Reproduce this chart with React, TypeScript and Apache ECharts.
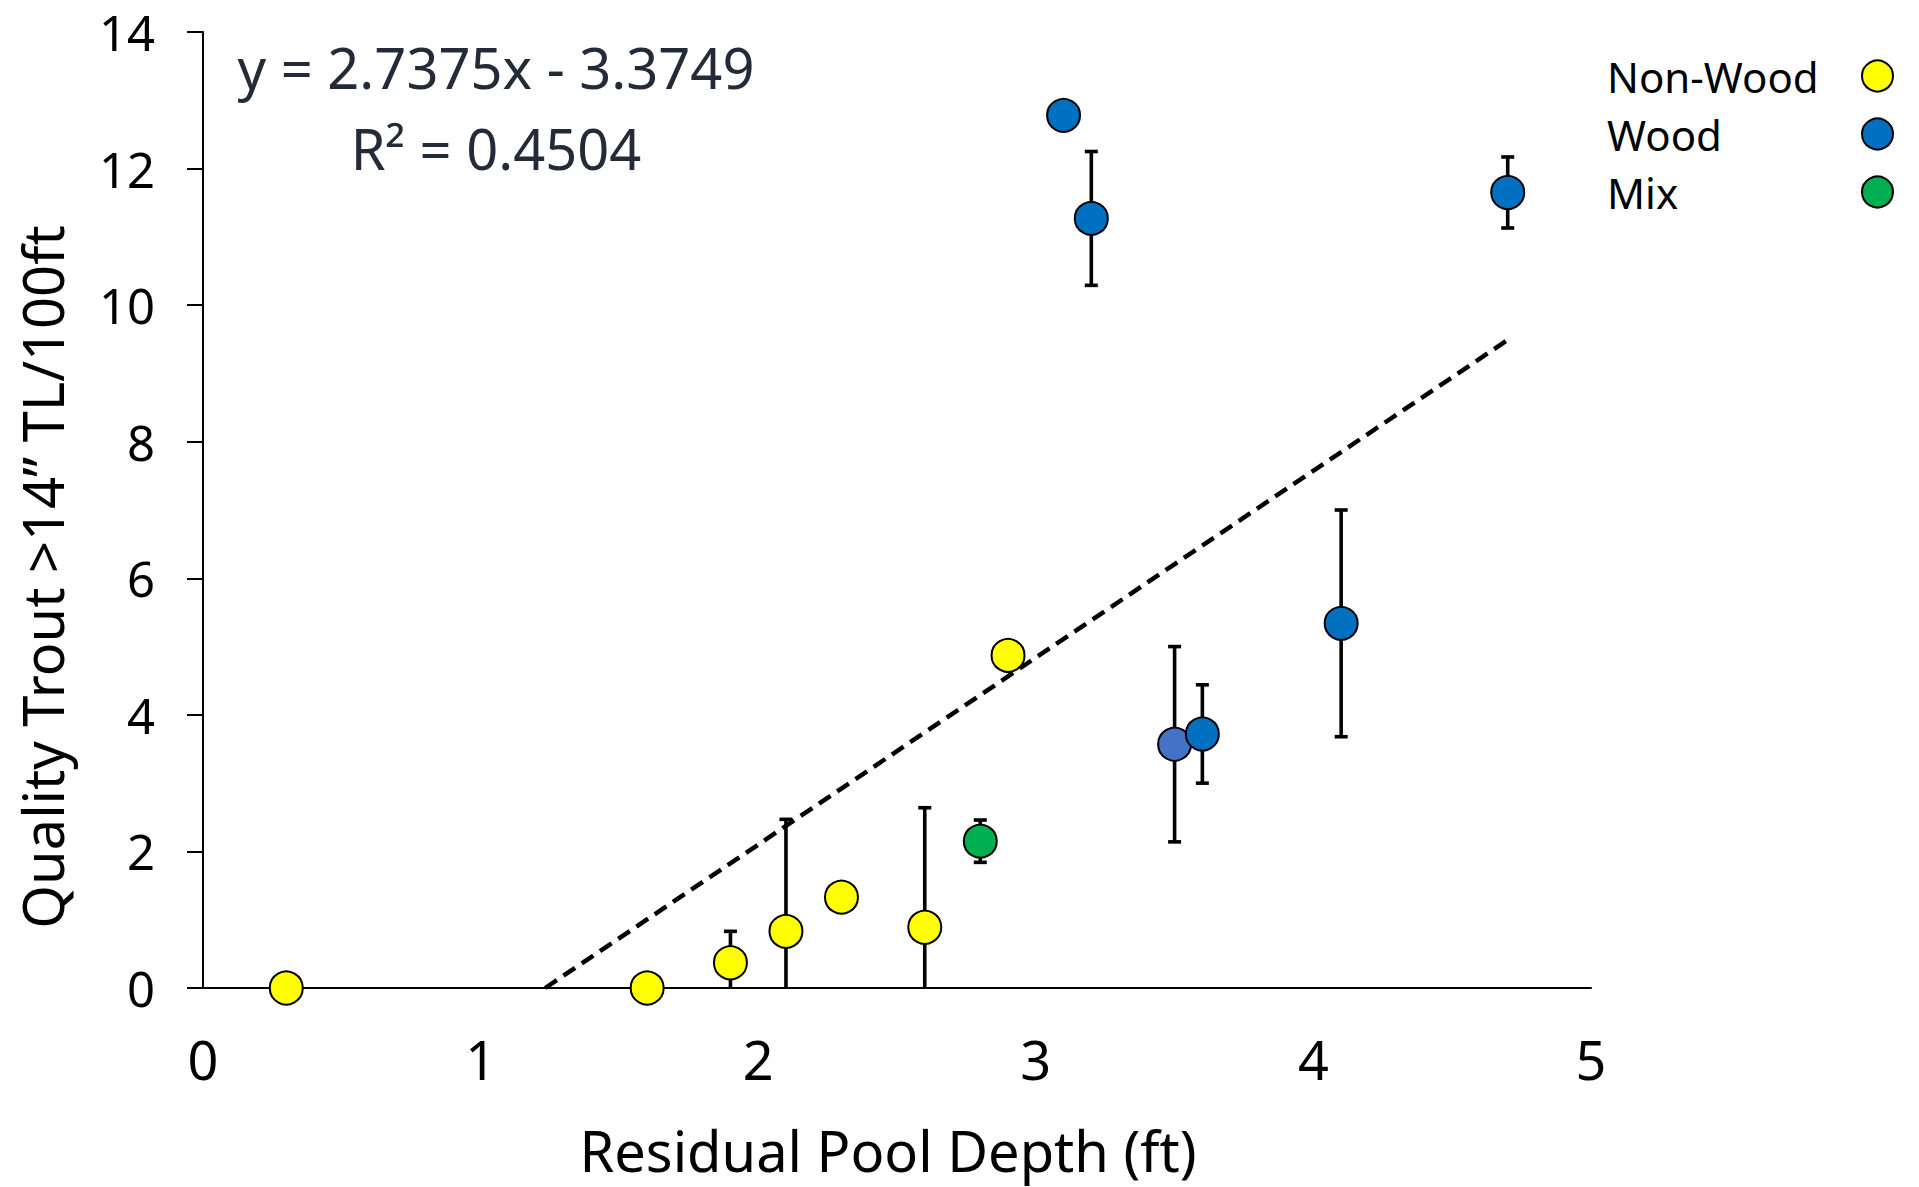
import React, { useEffect, useRef } from "react";
import * as echarts from "echarts";

// ---- data ----
const nonWoodX = [0.3, 1.6, 1.9, 2.1, 2.3, 2.6, 2.9];
const nonWoodY = [0, 0, 0.37, 0.83, 1.33, 0.89, 4.87];
const nonWoodErr = [0, 0, 0.46, 1.64, 0, 1.75, 0];

const woodX = [3.1, 3.2, 3.5, 3.6, 4.1, 4.7];
const woodY = [12.78, 11.27, 3.57, 3.72, 5.34, 11.65];
const woodErr = [0, 0.98, 1.43, 0.72, 1.66, 0.52];
const woodColors = ["#0070C0", "#0070C0", "#4472C4", "#0070C0", "#0070C0", "#0070C0"];

const mixX = [2.8];
const mixY = [2.15];
const mixErr = [0.31];

const seriesNames = ["Non-Wood", "Wood", "Mix"];
const seriesColors = ["#FFFF00", "#0070C0", "#00B050"];

const trendSlope = 2.7375;
const trendIntercept = -3.3749;
const trendXEnd = 4.7;
const equationText = "y = 2.7375x - 3.3749";
const r2Text = "R\u00B2 = 0.4504";

const xTicks = [0, 1, 2, 3, 4, 5];
const yTicks = [0, 2, 4, 6, 8, 10, 12, 14];

const xTitle = "Residual Pool Depth (ft)";
const yTitle = "Quality Trout >14\u201D TL/100ft";

const FONT = "Noto Sans";

export default function App() {
  const ref = useRef<HTMLDivElement>(null);

  useEffect(() => {
    if (!ref.current) return;
    const chart = echarts.init(ref.current, undefined, { renderer: "svg" });

    const errData: number[][] = [];
    const pushErr = (xs: number[], ys: number[], es: number[]) => {
      xs.forEach((x, i) => {
        if (es[i] > 0) errData.push([x, ys[i], es[i]]);
      });
    };
    pushErr(nonWoodX, nonWoodY, nonWoodErr);
    pushErr(woodX, woodY, woodErr);
    pushErr(mixX, mixY, mixErr);

    const trendStart = -trendIntercept / trendSlope;
    const trendData = [
      [trendStart, trendSlope * trendStart + trendIntercept],
      [trendXEnd, trendSlope * trendXEnd + trendIntercept],
    ];

    const markerStyle = (color: string) => ({
      color,
      borderColor: "#000",
      borderWidth: 2,
      opacity: 1,
    });

    const option: any = {
      animation: false,
      backgroundColor: "#ffffff",
      textStyle: { fontFamily: FONT },
      grid: { left: 203, right: 328, top: 32, bottom: 199, containLabel: false },
      xAxis: {
        type: "value",
        min: xTicks[0],
        max: xTicks[xTicks.length - 1],
        interval: 1,
        axisLine: { show: true, onZero: false, lineStyle: { color: "#000", width: 2 } },
        axisTick: { show: false },
        splitLine: { show: false },
        axisLabel: { color: "#000", fontSize: 54, margin: 44, fontFamily: FONT },
      },
      yAxis: {
        type: "value",
        min: yTicks[0],
        max: yTicks[yTicks.length - 1],
        interval: 2,
        axisLine: { show: true, lineStyle: { color: "#000", width: 2 } },
        axisTick: { show: true, inside: false, length: 16, lineStyle: { color: "#000", width: 2 } },
        splitLine: { show: false },
        axisLabel: { color: "#000", fontSize: 49, margin: 48, fontFamily: FONT },
      },
      legend: {
        orient: "vertical",
        left: 1607,
        top: 55,
        padding: 0,
        align: "right",
        itemWidth: 31,
        itemHeight: 31,
        itemGap: 16,
        icon: "circle",
        formatter: (name: string) => `{a|${name}}`,
        textStyle: {
          color: "#000",
          fontSize: 42,
          fontFamily: FONT,
          rich: {
            a: { width: 250, align: "left", fontSize: 42, fontFamily: FONT, color: "#000" },
          },
        },
        data: seriesNames.map((n, i) => ({
          name: n,
          itemStyle: { color: seriesColors[i], borderColor: "#000", borderWidth: 2 },
        })),
      },
      graphic: [
        {
          type: "text",
          x: 496,
          y: 67,
          style: {
            text: equationText,
            fontSize: 56,
            fontFamily: FONT,
            fill: "#232b38",
            align: "center",
            verticalAlign: "middle",
          },
        },
        {
          type: "text",
          x: 496,
          y: 148,
          style: {
            text: r2Text,
            fontSize: 56,
            fontFamily: FONT,
            fill: "#232b38",
            align: "center",
            verticalAlign: "middle",
          },
        },
        {
          type: "text",
          x: 888,
          y: 1150,
          style: {
            text: xTitle,
            fontSize: 56,
            lineHeight: 60,
            fontFamily: FONT,
            fill: "#000",
            align: "center",
            verticalAlign: "middle",
          },
        },
        {
          type: "text",
          x: 42,
          y: 577,
          rotation: Math.PI / 2,
          style: {
            text: yTitle,
            fontSize: 56,
            fontFamily: FONT,
            fill: "#000",
            align: "center",
            verticalAlign: "middle",
          },
        },
      ],
      series: [
        {
          type: "custom",
          name: "errorbars",
          z: 1,
          silent: true,
          data: errData,
          renderItem: (params: any, api: any) => {
            const x = api.value(0);
            const y = api.value(1);
            const e = api.value(2);
            const lowVal = Math.max(0, y - e);
            const hi = api.coord([x, y + e]);
            const lo = api.coord([x, lowVal]);
            const cap = 6.5;
            const w = 3.6;
            const children: any[] = [
              {
                type: "line",
                shape: { x1: hi[0], y1: hi[1], x2: lo[0], y2: lo[1] },
                style: { stroke: "#000", lineWidth: w },
              },
              {
                type: "line",
                shape: { x1: hi[0] - cap, y1: hi[1], x2: hi[0] + cap, y2: hi[1] },
                style: { stroke: "#000", lineWidth: w },
              },
            ];
            if (y - e >= 0) {
              children.push({
                type: "line",
                shape: { x1: lo[0] - cap, y1: lo[1], x2: lo[0] + cap, y2: lo[1] },
                style: { stroke: "#000", lineWidth: w },
              });
            }
            return { type: "group", children };
          },
        },
        {
          type: "scatter",
          name: seriesNames[0],
          z: 3,
          symbol: "circle",
          symbolSize: 33,
          itemStyle: markerStyle(seriesColors[0]),
          data: nonWoodX.map((x, i) => [x, nonWoodY[i]]),
        },
        {
          type: "scatter",
          name: seriesNames[1],
          z: 3,
          symbol: "circle",
          symbolSize: 33,
          itemStyle: markerStyle(seriesColors[1]),
          data: woodX.map((x, i) => ({ value: [x, woodY[i]], itemStyle: { color: woodColors[i] } })),
        },
        {
          type: "scatter",
          name: seriesNames[2],
          z: 3,
          symbol: "circle",
          symbolSize: 33,
          itemStyle: markerStyle(seriesColors[2]),
          data: mixX.map((x, i) => [x, mixY[i]]),
        },
        {
          type: "line",
          name: "trend",
          z: 4,
          silent: true,
          showSymbol: false,
          symbol: "none",
          lineStyle: { color: "#000", width: 4.5, type: [14, 8] },
          data: trendData,
        },
      ],
    };

    chart.setOption(option);
    return () => chart.dispose();
  }, []);

  return (
    <div
      ref={ref}
      style={{ position: "fixed", left: 0, top: 0, width: 1919, height: 1187, background: "#fff" }}
    />
  );
}
